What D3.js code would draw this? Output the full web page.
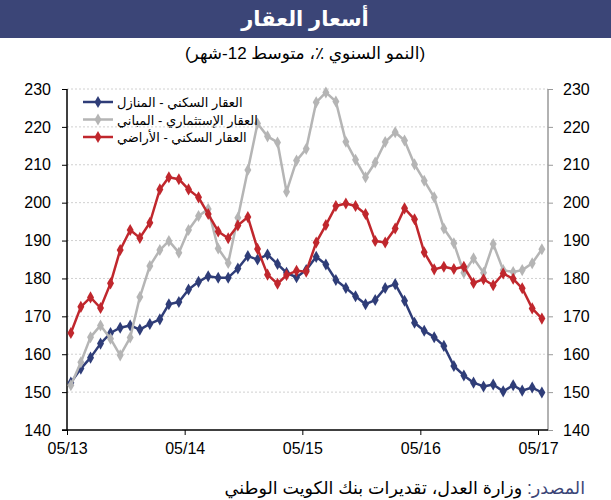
<!DOCTYPE html>
<html>
<head>
<meta charset="utf-8">
<script src="https://cdn.jsdelivr.net/npm/d3@7"></script>
<style>
  body { margin: 0; background: #fff; }
  svg text { font-family: "Liberation Sans", Arial, "DejaVu Sans", sans-serif; }
</style>
</head>
<body>
<div class="item"></div>
<script>
// values, monthly from 05/13 to 05/17
var homes = [152.5, 156.2, 159.1, 162.8, 165.6, 167.0, 167.6, 166.5, 168.0, 169.2,
  173.2, 173.8, 177.1, 179.1, 180.6, 180.2, 180.2, 182.6, 185.9, 185.0,
  186.3, 183.8, 181.5, 180.3, 182.2, 185.7, 183.7, 179.6, 177.5, 175.3,
  173.2, 174.3, 177.5, 178.5, 174.1, 168.3, 166.2, 164.5, 162.2, 156.9,
  154.4, 152.5, 151.5, 152.0, 150.2, 151.8, 150.4, 151.2, 149.9];
var buildings = [151.8, 157.9, 164.5, 167.6, 164.1, 159.7, 164.4, 175.1, 183.3, 187.5,
  189.9, 186.8, 192.8, 196.5, 198.3, 187.9, 184.1, 196.0, 208.6, 220.9,
  217.5, 215.9, 202.9, 211.1, 214.2, 226.5, 229.1, 226.7, 216.1, 211.3,
  206.7, 210.6, 216.0, 218.6, 216.4, 210.1, 205.8, 201.4, 193.2, 189.3,
  181.5, 185.3, 181.5, 189.1, 182.2, 181.7, 182.2, 184.0, 187.7];
var land = [165.6, 172.5, 175.0, 172.2, 178.7, 187.5, 192.8, 190.7, 194.7, 203.5,
  206.7, 206.2, 203.5, 201.4, 197.0, 192.4, 190.6, 194.0, 196.2, 187.8,
  181.0, 178.6, 180.9, 182.0, 181.8, 189.5, 194.1, 199.1, 199.8, 199.1,
  197.0, 189.9, 189.5, 193.2, 198.5, 195.6, 186.9, 182.4, 183.1, 182.5,
  183.1, 178.8, 179.8, 178.2, 181.3, 179.9, 177.4, 172.1, 169.4];

var seriesNames = ["العقار السكني - المنازل", "العقار الإستثماري - المباني", "العقار السكني - الأراضي"];
var seriesColors = ["#2f3d78", "#b5b5b5", "#c0272d"];
var yTicks = [140, 150, 160, 170, 180, 190, 200, 210, 220, 230];
var xTickLabels = ["05/13", "05/14", "05/15", "05/16", "05/17"];

var width = 611;
var height = 500;

var svg = d3.select(".item")
    .append("svg")
    .attr("width", width)
    .attr("height", height);

// title bar
svg.append("rect")
    .attr("x", 0).attr("y", 0)
    .attr("width", width).attr("height", 38)
    .style("fill", "#3b4577");
svg.append("text")
    .attr("x", 305).attr("y", 26)
    .attr("text-anchor", "middle")
    .style("fill", "#fff")
    .style("font-size", "21px")
    .style("font-weight", "bold")
    .text("أسعار العقار");
svg.append("text")
    .attr("x", 305).attr("y", 59)
    .attr("text-anchor", "middle")
    .style("font-size", "17px")
    .text("(النمو السنوي ٪، متوسط 12-شهر)");

var dates = d3.range(homes.length).map(function(i){ return new Date(2013, 4 + i, 13); });
var tickDates = xTickLabels.map(function(s){ return new Date(2000 + +s.slice(3), +s.slice(0, 2) - 1, 1); });

var x = d3.scaleTime()
    .domain([new Date(2013, 4, 1), new Date(2017, 5, 1)])
    .range([67, 548]);
var y = d3.scaleLinear()
    .domain([140, 230])
    .range([430, 89]);

// gridlines
svg.append("g")
    .selectAll("line")
    .data(yTicks.slice(1))
    .enter().append("line")
    .attr("x1", 67).attr("x2", 548)
    .attr("y1", function(d){ return y(d); })
    .attr("y2", function(d){ return y(d); })
    .style("stroke", "#d0d0d0")
    .style("stroke-dasharray", "2,2");

// axes
var left = svg.append("g")
    .attr("transform", "translate(67,0)")
    .call(d3.axisLeft(y).tickValues(yTicks).tickSize(5).tickPadding(11));
var right = svg.append("g")
    .attr("transform", "translate(548,0)")
    .call(d3.axisRight(y).tickValues(yTicks).tickSize(5).tickPadding(10));
var bottom = svg.append("g")
    .attr("transform", "translate(0,430)")
    .call(d3.axisBottom(x).tickValues(tickDates).tickFormat(d3.timeFormat("%m/%y")).tickSize(5).tickPadding(8));

left.select(".domain").attr("d", "M0,89V430").style("stroke", "#000").style("stroke-width", 1.5);
right.select(".domain").attr("d", "M0,89V430").style("stroke", "#999").style("stroke-width", 1.5);
right.selectAll(".tick line").style("stroke", "#999");
bottom.select(".domain").attr("d", "M62,0H548").style("stroke", "#000").style("stroke-width", 1.5);
svg.selectAll(".tick text").style("font-size", "16px").style("fill", "#000")
    .style("font-family", "'Liberation Sans', Arial, sans-serif");

// series
var allSeries = [homes, buildings, land];
var line = d3.line()
    .x(function(d, i){ return x(dates[i]); })
    .y(function(d){ return y(d); });
var diamond = d3.symbol().type(d3.symbolDiamond).size(42);

allSeries.forEach(function(vals, k){
    svg.append("path")
        .datum(vals)
        .attr("d", line)
        .style("fill", "none")
        .style("stroke", seriesColors[k])
        .style("stroke-width", 2.5)
        .style("stroke-linejoin", "round");
    svg.append("g")
        .selectAll("path")
        .data(vals)
        .enter().append("path")
        .attr("d", diamond)
        .attr("transform", function(d, i){ return "translate(" + x(dates[i]) + "," + y(d) + ")"; })
        .style("fill", seriesColors[k]);
});

// legend
var legend = svg.append("g")
    .selectAll("g")
    .data(seriesNames)
    .enter().append("g")
    .attr("transform", function(d, i){ return "translate(0," + (102 + i * 17.5) + ")"; });
legend.append("line")
    .attr("x1", 83).attr("x2", 113)
    .style("stroke", function(d, i){ return seriesColors[i]; })
    .style("stroke-width", 2.5);
legend.append("path")
    .attr("d", diamond)
    .attr("transform", "translate(98,0)")
    .style("fill", function(d, i){ return seriesColors[i]; });
legend.append("text")
    .attr("x", 117).attr("y", 5)
    .attr("direction", "rtl")
    .attr("text-anchor", "end")
    .style("font-size", "13px")
    .text(function(d){ return d; });

// source
var src = svg.append("text")
    .attr("x", 585).attr("y", 494)
    .attr("direction", "rtl")
    .attr("text-anchor", "start")
    .style("font-size", "17.5px");
src.append("tspan").style("fill", "#3b4577").text("المصدر: ");
src.append("tspan").text("وزارة العدل، تقديرات بنك الكويت الوطني");
</script>
</body>
</html>
